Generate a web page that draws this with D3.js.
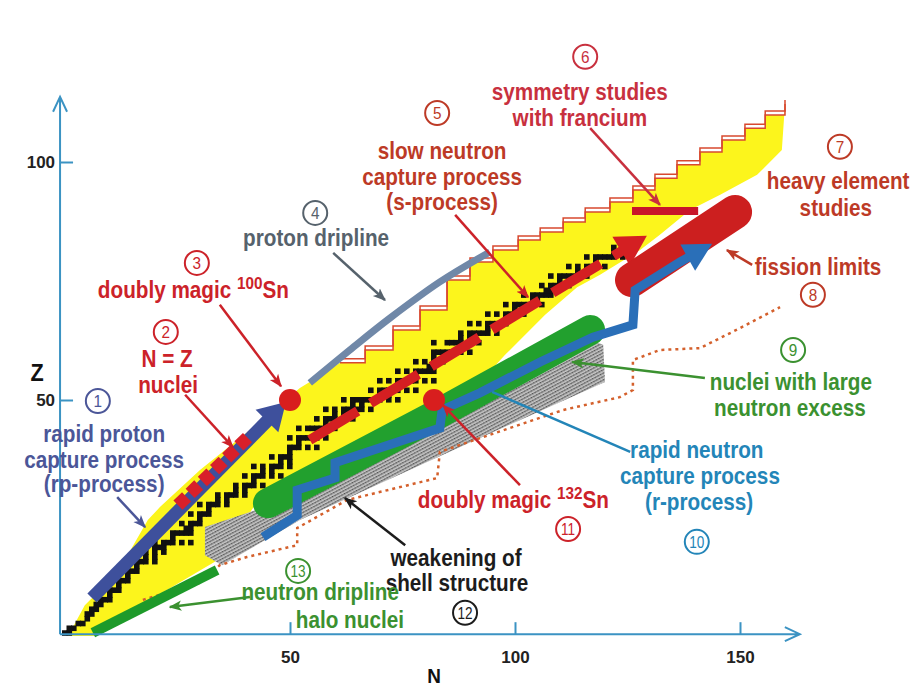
<!DOCTYPE html>
<html>
<head>
<meta charset="utf-8">
<script src="https://cdn.jsdelivr.net/npm/d3@7"></script>
<style>
  body { margin: 0; background: #fff; }
  svg { display: block; font-family: "Liberation Sans", Arial, sans-serif; }
</style>
</head>
<body>
<div class="chart"></div>
<script>
// all values are [N, Z]
const xTicks = [50, 100, 150];
const yTicks = [50, 100];

// known nuclei region (yellow), left edge up to the stair, then right edge back down
const knownLeft = [[0.7,0.4],[4.4,6.9],[7.8,10.1],[13.3,16.4],[18.4,24.8],[21.1,27.5],[30,35.3],
  [41.1,43.7],[47.8,49],[52.2,52.5],[57,55.3]];
const knownStair = [[61.1,57.8],[66.7,60.5],[72.9,64.7],[78.9,68.9],[84.9,75.2],[90,79],[95.1,81.5],
  [100.7,83.6],[105.6,85.3],[110.7,87.4],[115.6,89.5],[121.1,91.6],[126.2,94.1],[131.1,96.6],
  [136,99.4],[141.1,102.1],[146,104.6],[151.1,107.1],[155.6,109.9],[160,112.2]];
const knownRight = [[159.3,102.5],[153.8,97.3],[145.6,93.1],[138.9,89.9],[132.2,84.7],[127.8,81.5],
  [118.9,76.3],[113.8,73.7],[106.7,67.9],[97.8,59.5],[92.7,54.2],[83.3,50],[70,43.7],[56.7,36.3],
  [47.8,31.1],[42.2,27.9],[40,24.8],[37.1,19.5],[33.3,16],[18.9,8],[6.7,0.4]];

// stable nuclei: [Z, [N...]]
const stable = [[1,[0,1]],[2,[1,2]],[3,[3,4]],[4,[5]],[5,[5,6]],[6,[6,7]],[7,[7,8]],[8,[8,9,10]],
  [9,[10]],[10,[10,11,12]],[11,[12]],[12,[12,13,14]],[13,[14]],[14,[14,15,16]],[15,[16]],
  [16,[16,17,18,20]],[17,[18,20]],[18,[18,20,22]],[19,[20,21,22]],[20,[20,22,23,24,26,28]],[21,[24]],
  [22,[24,25,26,27,28]],[23,[27,28]],[24,[26,28,29,30]],[25,[30]],[26,[28,30,31,32]],[27,[32]],
  [28,[30,32,33,34,36]],[29,[34,36]],[30,[34,36,37,38,40]],[31,[38,40]],[32,[38,40,41,42,44]],
  [33,[42]],[34,[40,42,43,44,46,48]],[35,[44,46]],[36,[42,44,46,47,48,50]],[37,[48,50]],
  [38,[46,48,49,50]],[39,[50]],[40,[50,51,52,54,56]],[41,[52]],[42,[50,52,53,54,55,56,58]],
  [44,[52,54,55,56,57,58,60]],[45,[58]],[46,[56,58,59,60,62,64]],[47,[60,62]],
  [48,[58,60,62,63,64,65,66,68]],[49,[64,66]],[50,[62,64,65,66,67,68,69,70,72,74]],[51,[70,72]],
  [52,[68,70,71,72,73,74,76,78]],[53,[74]],[54,[70,72,74,75,76,77,78,80,82]],[55,[78]],
  [56,[74,76,78,79,80,81,82]],[57,[81,82]],[58,[78,80,82,84]],[59,[82]],[60,[82,83,84,85,86,88,90]],
  [62,[82,85,86,87,88,90,92]],[63,[88,90]],[64,[88,90,91,92,93,94,96]],[65,[94]],
  [66,[90,92,94,95,96,97,98]],[67,[98]],[68,[94,96,98,99,100,102]],[69,[100]],
  [70,[98,100,101,102,103,104,106]],[71,[104,105]],[72,[102,104,105,106,107,108]],[73,[107,108]],
  [74,[106,108,109,110,112]],[75,[110,112]],[76,[108,110,111,112,113,114,116]],[77,[114,116]],
  [78,[112,114,116,117,118,120]],[79,[118]],[80,[116,118,119,120,121,122,124]],[81,[122,124]],
  [82,[122,124,125,126]],[83,[126]]];

const shellWeak = [[31.1,23.3],[43.8,27.3],[83.3,45.8],[116.7,62.6],[119.6,61.6],[120,53.8],
  [92.2,42],[52.2,24.8],[34.9,15.3],[31.1,17.4]];
const dripDotted = [[17.3,8],[30,11.6],[34.4,15.3],[40.4,17],[51.6,19.5],[51.6,23.1],[62.7,29],
  [82.7,33.6],[83.3,39.1],[92.9,42.2],[110.7,47.9],[123.3,50.6],[126.2,52.1],[126.2,58.4],
  [132.2,60.5],[141.1,60.9],[150,65.1],[158.9,69.5]];
const neutronDrip = [[6.2,1.1],[33.8,14.3]];
const largeExcess = [[45.1,28.3],[83.3,47.3],[116.7,64.7]];
const rpPath = [[6,8.4],[49.1,49.6]];
const rpNZ = [[25.1,27.9],[41.1,42.6]];
const sPath = [[54.4,41.6],[129.3,84.5]];
const francium = [[126,89.7],[140.7,89.7]];
const fission = [[126,75.2],[148.9,89.5]];
const rPath = [[44,21.2],[51.6,25.8],[51.6,31.1],[60,33.6],[60,36.8],[83.3,44.1],[83.8,47.9],
  [92.2,51.5],[105.6,58],[117.3,63.2],[126.2,65.8],[126.7,73.1],[136.7,79],[143.8,82.8]];
const protonDrip = [[54.4,53.6],[63.3,60.5],[72.2,67.2],[83.3,74.8],[94.4,81.1]];
const magic = [[50,50],[82,50]];

// annotations
const palette = {navy:"#4b5698", red:"#cc2229", grey:"#56626c", rose:"#c8303e", brown:"#bd3a26",
  green:"#3b9130", blue:"#2385b8", black:"#1c1c1c"};
const circleNotes = [[1,7.3,49.8,"navy"],[2,22.4,64.3,"red"],[3,29.3,78.8,"red"],[4,55.6,89.3,"grey"],
  [5,82.7,110.3,"brown"],[6,115.6,122.1,"rose"],[7,172.2,103.2,"brown"],[8,166.2,72.1,"brown"],
  [9,161.8,60.5,"green"],[10,140.4,20.2,"blue"],[11,111.8,22.9,"red"],[12,88.9,5.3,"black"],
  [13,51.8,14.1,"green"]];
const textNotes = [
  ["rapid proton",8.7,42.9,"navy"],["capture process",8.7,37.4,"navy"],["(rp-process)",8.7,32.4,"navy"],
  ["N = Z",22.7,58.6,"red"],["nuclei",22.9,53.2,"red"],
  ["proton dripline",55.8,84.0,"grey"],
  ["slow neutron",83.8,102.3,"brown"],["capture process",83.8,96.8,"brown"],["(s-process)",83.8,91.6,"brown"],
  ["symmetry studies",114.4,114.7,"rose"],["with francium",114.4,109.2,"rose"],
  ["heavy element",171.8,96.0,"brown"],["studies",171.3,90.3,"brown"],
  ["fission limits",153.3,77.9,"brown","start"],
  ["nuclei with large",161.3,53.8,"green"],["neutron excess",161.1,48.3,"green"],
  ["rapid neutron",140.4,39.5,"blue"],["capture process",141.1,34.0,"blue"],["(r-process)",140.9,28.6,"blue"],
  ["weakening of",86.9,16.8,"black"],["shell structure",87.1,11.6,"black"],
  ["neutron dripline",56.7,9.7,"green"],["halo nuclei",63.3,3.9,"green"]];
const magicNotes = [["100",7.3,73.1],["132",78.4,29.0]];
const arrowNotes = [
  [[11.6,29.6],[17.8,23.3],"navy"],[[26.7,51.1],[37.3,40.1],"red"],[[34.4,70.0],[48.0,52.9],"red"],
  [[59.6,80.9],[71.1,71.0],"grey"],[[86.7,88.9],[102.9,71.6],"red"],[[116.7,107.1],[132.2,91.0],"rose"],
  [[152.7,78.4],[147.1,81.5],"brown"],[[142.2,54.6],[112.7,58.0],"green"],
  [[125.6,39.1],[94.9,51.7],"blue",false],[[101.1,32.1],[84.0,48.9],"red"],
  [[75.6,19.5],[62.2,29.4],"black"],[[41.1,8.6],[23.3,6.5],"green"]];

const width = 916, height = 691;
const condense = 0.9; // the figure uses a condensed face
const svg = d3.select(".chart").append("svg").attr("width", width).attr("height", height);

const x = d3.scaleLinear().domain([0, 150]).range([65, 740]);
const y = d3.scaleLinear().domain([0, 100]).range([638, 162]);
const line = d3.line().x(d => x(d[0])).y(d => y(d[1]));
const px = d => [x(d[0]), y(d[1])];

const defs = svg.append("defs");
const hatch = defs.append("pattern").attr("id", "hatch").attr("width", 3).attr("height", 3)
  .attr("patternUnits", "userSpaceOnUse").attr("patternTransform", "rotate(-28)");
hatch.append("rect").attr("width", 3).attr("height", 3).attr("fill", "#c9c9c9");
hatch.append("rect").attr("width", 1.5).attr("height", 1.4).attr("fill", "#4f4f4f");
hatch.append("rect").attr("x", 1.5).attr("width", 1.5).attr("height", 1.4).attr("fill", "#7d7d7d");

Object.entries(palette).forEach(([k, c]) => {
  defs.append("marker").attr("id", "m-" + k).attr("viewBox", "0 0 10 10")
    .attr("refX", 9).attr("refY", 5).attr("markerWidth", 13).attr("markerHeight", 13)
    .attr("markerUnits", "userSpaceOnUse").attr("orient", "auto")
    .append("path").attr("d", "M0,1 L10,5 L0,9 L2.5,5 Z").attr("fill", c);
});

function head(p0, p1, len, half) {
  const dx = p1[0] - p0[0], dy = p1[1] - p0[1], L = Math.hypot(dx, dy);
  const ux = dx / L, uy = dy / L, bx = p1[0] - ux * len, by = p1[1] - uy * len;
  return {base: [bx + ux * 2, by + uy * 2],
    tri: [p1, [bx - uy * half, by + ux * half], [bx + uy * half, by - ux * half]]};
}

// yellow region
const stairCorners = [];
knownStair.forEach((d, i) => {
  stairCorners.push(d);
  if (i < knownStair.length - 1) stairCorners.push([knownStair[i + 1][0], d[1]]);
});
svg.append("path").attr("d", line(knownLeft.concat(stairCorners, knownRight)) + "Z")
  .attr("fill", "#fcf51c");

// weakening of shell structure
svg.append("path").attr("d", line(shellWeak) + "Z").attr("fill", "url(#hatch)");

// outlined stair along the upper edge
[0, -4].forEach(off => {
  svg.append("path").attr("d", line(stairCorners)).attr("transform", `translate(0,${off})`)
    .attr("fill", "none").attr("stroke", "#d8492f").attr("stroke-width", 1.5);
});

// stable nuclei
const cells = stable.flatMap(([z, ns]) => ns.map(n => [n, z]));
svg.append("g").selectAll("rect").data(cells).join("rect")
  .attr("x", d => x(d[0]) - 3).attr("y", d => y(d[1]) - 3)
  .attr("width", 5.6).attr("height", 5.6).attr("fill", "#111");

// predicted neutron dripline
svg.append("path").attr("d", line(dripDotted)).attr("fill", "none")
  .attr("stroke", "#d4602c").attr("stroke-width", 2.5).attr("stroke-dasharray", "3,4");

svg.append("path").attr("d", line(neutronDrip)).attr("stroke", "#1e9a2a").attr("stroke-width", 10);

svg.append("path").attr("d", line(largeExcess)).attr("fill", "none")
  .attr("stroke", "#22a02e").attr("stroke-width", 30).attr("stroke-linecap", "round");

// rp-process
{
  const p = rpPath.map(px), h = head(p[0], p[1], 27, 16);
  svg.append("path").attr("d", d3.line()([p[0], h.base])).attr("stroke", "#3e509c").attr("stroke-width", 13);
  svg.append("path").attr("d", d3.line()(h.tri) + "Z").attr("fill", "#3e509c");
  svg.append("path").attr("d", line(rpNZ)).attr("stroke", "#d8202a").attr("stroke-width", 13)
    .attr("stroke-dasharray", "12,5");
}

// s-process
{
  const p = sPath.map(px), h = head(p[0], p[1], 30, 17);
  svg.append("path").attr("d", d3.line()([p[0], h.base])).attr("stroke", "#d41f22")
    .attr("stroke-width", 10).attr("stroke-dasharray", "56,15");
  svg.append("path").attr("d", d3.line()(h.tri) + "Z").attr("fill", "#d41f22");
}

svg.append("path").attr("d", line(francium)).attr("stroke", "#c8152a").attr("stroke-width", 8);

svg.append("path").attr("d", line(fission)).attr("stroke", "#cc1f1f")
  .attr("stroke-width", 34).attr("stroke-linecap", "round");

// r-process
{
  const p = rPath.map(px), n = p.length, h = head(p[n - 2], p[n - 1], 28, 15);
  svg.append("path").attr("d", d3.line()(p.slice(0, n - 1).concat([h.base]))).attr("fill", "none")
    .attr("stroke", "#2a6fb8").attr("stroke-width", 9).attr("stroke-linejoin", "miter");
  svg.append("path").attr("d", d3.line()(h.tri) + "Z").attr("fill", "#2a6fb8");
}

svg.append("path").attr("d", line.curve(d3.curveCardinal)(protonDrip)).attr("fill", "none")
  .attr("stroke", "#7088a8").attr("stroke-width", 7);
line.curve(d3.curveLinear);

svg.append("g").selectAll("circle").data(magic).join("circle")
  .attr("cx", d => x(d[0])).attr("cy", d => y(d[1])).attr("r", 11).attr("fill", "#d81e1e");

// axes
const axisColor = "#3b93c3";
const ax0 = x(-1.1), ay0 = y(0.8), axEnd = x(163.3), ayEnd = y(113.7);
const gx = svg.append("g").attr("transform", `translate(0,${ay0})`)
  .call(d3.axisBottom(x).tickValues(xTicks).tickSize(-12).tickPadding(17));
const gy = svg.append("g").attr("transform", `translate(${ax0},0)`)
  .call(d3.axisLeft(y).tickValues(yTicks).tickSize(-13).tickPadding(5));
[gx, gy].forEach(g => {
  g.select(".domain").remove();
  g.selectAll(".tick line").attr("stroke", axisColor).attr("stroke-width", 2);
  g.selectAll(".tick text").attr("fill", "#222").attr("font-size", 17).attr("font-weight", "bold")
    .attr("font-family", "Liberation Sans, sans-serif");
});
const axes = svg.append("g").attr("fill", "none").attr("stroke", axisColor).attr("stroke-width", 2);
axes.append("path").attr("d", `M${ax0},${ay0}H${axEnd}M${axEnd - 15},${ay0 - 7}L${axEnd},${ay0}L${axEnd - 15},${ay0 + 7}`);
axes.append("path").attr("d", `M${ax0},${ay0}V${ayEnd}M${ax0 - 7},${ayEnd + 15}L${ax0},${ayEnd}L${ax0 + 7},${ayEnd + 15}`);
svg.append("text").attr("transform", `translate(37,${y(54)}) scale(${condense},1)`).attr("text-anchor", "middle")
  .attr("font-size", 24).attr("font-weight", "bold").attr("fill", "#111").text("Z");
svg.append("text").attr("transform", `translate(${x(82)},683) scale(${condense},1)`).attr("text-anchor", "middle")
  .attr("font-size", 21).attr("font-weight", "bold").attr("fill", "#111").text("N");

// callout arrows
svg.append("g").selectAll("path").data(arrowNotes).join("path")
  .attr("d", d => line([d[0], d[1]])).attr("fill", "none")
  .attr("stroke", d => palette[d[2]]).attr("stroke-width", 2.5)
  .attr("marker-end", d => d[3] === false ? null : `url(#m-${d[2]})`);

// circled numbers
const cg = svg.append("g").selectAll("g").data(circleNotes).join("g")
  .attr("transform", d => `translate(${x(d[1])},${y(d[2])})`);
cg.append("circle").attr("r", 12).attr("fill", "#fff").attr("stroke", d => palette[d[3]]).attr("stroke-width", 2);
cg.append("text").attr("text-anchor", "middle").attr("dy", "0.36em")
  .attr("transform", d => `scale(${d[0] > 9 ? 0.8 : condense},1)`)
  .attr("font-size", 17).attr("fill", d => palette[d[3]]).text(d => d[0]);

// text labels
svg.append("g").selectAll("text").data(textNotes).join("text")
  .attr("transform", d => `translate(${x(d[1])},${y(d[2])}) scale(${condense},1)`).attr("dy", "0.35em")
  .attr("text-anchor", d => d[4] || "middle").attr("font-size", 23).attr("font-weight", "bold")
  .attr("fill", d => palette[d[3]]).text(d => d[0]);

const mt = svg.append("g").selectAll("text").data(magicNotes).join("text")
  .attr("transform", d => `translate(${x(d[1])},${y(d[2])}) scale(${condense},1)`).attr("dy", "0.35em")
  .attr("font-size", 23).attr("font-weight", "bold").attr("fill", palette.red);
mt.append("tspan").text("doubly magic ");
mt.append("tspan").attr("font-size", 17).attr("dy", -9).text(d => d[0]);
mt.append("tspan").attr("dy", 9).text("Sn");
</script>
</body>
</html>
